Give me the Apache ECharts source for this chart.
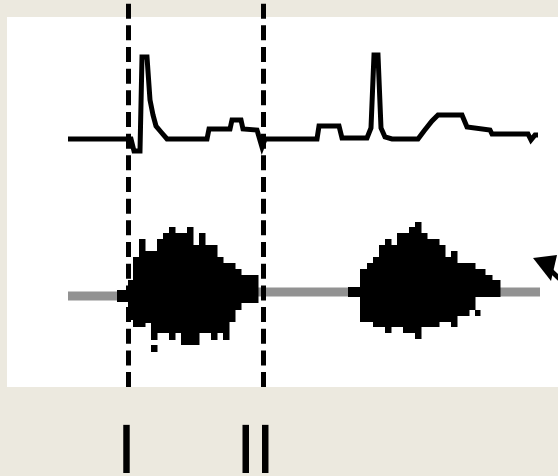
<!DOCTYPE html>
<html>
<head>
<meta charset="utf-8">
<script src="https://cdn.jsdelivr.net/npm/echarts@6/dist/echarts.min.js"></script>
<style>
html,body{margin:0;padding:0;background:#ECE9DF;}
#chart{width:558px;height:476px;}
</style>
</head>
<body>
<div id="chart"></div>
<script>
// ECG trace: time (px units) and amplitude (relative to ECG baseline)
const ecgTime = [68,131,134,140,142,147,150,153,156,161,167,207,209,230,232,241,243,257,262,265,317,319,339,342,367,371,374,378,381,385,392,418,424,432,438,462,467,490,492,528,531,535,538];
const ecgAmp  = [0,0,-12,-12,82,82,39,24,13,7,0,0,10,10,19,19,10,9,-8,0,0,13,13,1,1,11,84,84,11,2,0,0,8,18,24,24,12,9,5,5,-1,4,4];

// Phonocardiogram baseline
const pcgBaseTime = [68,128,258,540];
const pcgBaseAmp  = [-4,-4,0,0];

// Murmur envelopes (column start, column end, upper, lower amplitude)
const murmurStart = [117,128,133,139,145,151,151,157,163,169,175,181,187,193,199,205,211,217,223,229,235,241,
                     348,360,367,373,379,385,391,397,403,409,415,421,427,433,439,445,451,457,463,469,475,475,485,492];
const murmurEnd   = [128,133,139,145,151,157,157,163,169,175,181,187,193,199,205,211,217,223,229,235,241,258,
                     360,367,373,379,385,391,397,403,409,415,421,427,433,439,445,451,457,463,469,475,480,485,492,500];
const murmurUpper = [2,12,35,53,41,41,-53,53,59,65,59,59,65,47,59,47,47,35,29,29,23,17,
                     5,23,29,35,47,53,47,59,59,65,70,59,53,53,47,35,41,29,29,29,-18,23,17,12];
const murmurLower = [-10,-28,-35,-35,-31,-48,-60,-41,-41,-48,-41,-53,-53,-53,-41,-41,-48,-41,-48,-30,-18,-11,
                     -5,-30,-30,-35,-35,-41,-35,-35,-41,-41,-47,-35,-35,-35,-30,-30,-35,-24,-24,-18,-24,-5,-5,-5];

// Event markers
const markerTime = [128, 263];
const labelPos = [126.5, 255.5];
const labelText = ['I', 'II'];

const ecgData = ecgTime.map((t, i) => [t, ecgAmp[i]]);
const baseData = pcgBaseTime.map((t, i) => [t, pcgBaseAmp[i]]);
const murmurData = murmurStart.map((s, i) => [s, murmurEnd[i], murmurUpper[i], murmurLower[i]]);

const chart = echarts.init(document.getElementById('chart'), null, {renderer: 'canvas'});
chart.setOption({
  animation: false,
  backgroundColor: '#ECE9DF',
  grid: {left: 0, right: 0, top: 0, bottom: 89, outerBoundsMode: 'none', containLabel: false},
  xAxis: {
    type: 'value', min: 0, max: 558,
    axisLine: {show: false}, axisTick: {show: false}, splitLine: {show: false},
    axisLabel: {
      customValues: labelPos,
      formatter: v => labelText[labelPos.indexOf(v)] || '',
      fontSize: 66, fontFamily: 'DejaVu Sans', color: '#000', margin: 36
    }
  },
  yAxis: [
    {type: 'value', min: -248, max: 139, show: false},
    {type: 'value', min: -95, max: 292, show: false}
  ],
  graphic: {
    elements: [
      {type: 'rect', z: -10, silent: true, shape: {x: 7, y: 17, width: 551, height: 370}, style: {fill: '#ffffff'}},
      {type: 'polygon', z: 100, silent: true, shape: {points: [[533,258],[557,255],[551,281]]}, style: {fill: '#000'}},
      {type: 'line', z: 100, silent: true, shape: {x1: 546, y1: 266, x2: 566, y2: 285}, style: {stroke: '#000', lineWidth: 5}}
    ]
  },
  series: [
    {
      type: 'line', data: baseData, yAxisIndex: 1, symbol: 'none', z: 2,
      lineStyle: {color: '#929292', width: 9}
    },
    {
      type: 'custom', yAxisIndex: 1, z: 3, data: murmurData,
      encode: {x: [0, 1], y: [2, 3]},
      renderItem: function (params, api) {
        const p0 = api.coord([api.value(0), api.value(2)]);
        const p1 = api.coord([api.value(1), api.value(3)]);
        return {
          type: 'rect',
          shape: {x: p0[0], y: p0[1], width: p1[0] - p0[0] + 0.5, height: p1[1] - p0[1]},
          style: {fill: '#000'}
        };
      }
    },
    {
      type: 'line', data: ecgData, yAxisIndex: 0, symbol: 'none', z: 4,
      lineStyle: {color: '#000', width: 5, join: 'miter'},
      markLine: {
        silent: true, symbol: ['none', 'none'], label: {show: false},
        lineStyle: {color: '#000', width: 5, type: [15, 6.67], dashOffset: 18},
        data: markerTime.map(t => [{coord: [t, 139]}, {coord: [t, -248]}])
      }
    }
  ]
});
</script>
</body>
</html>
